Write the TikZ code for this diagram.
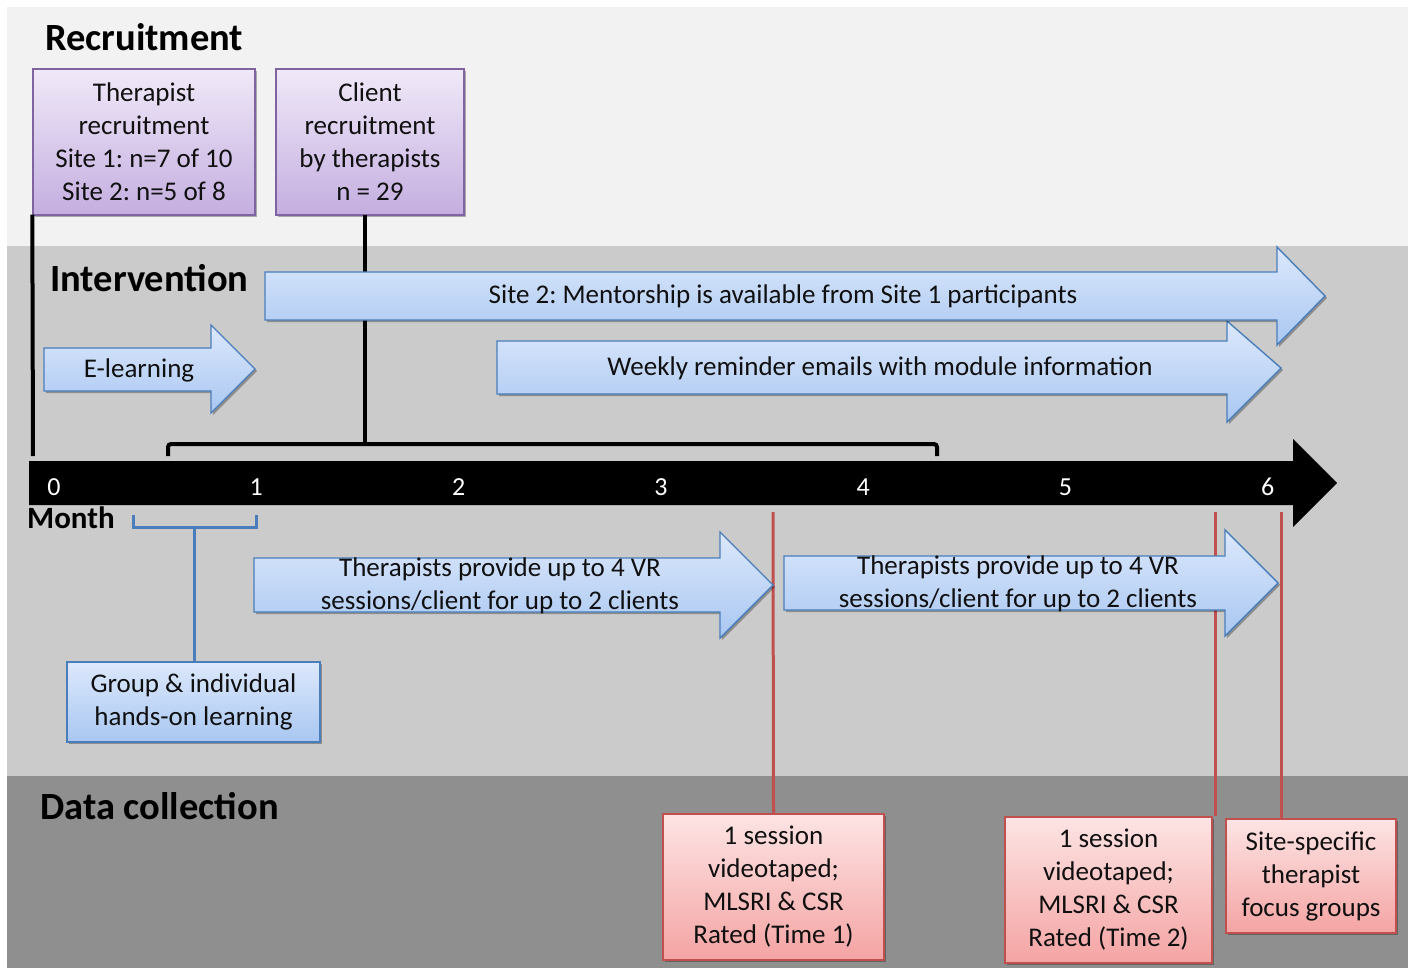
\documentclass[tikz,border=0pt]{standalone}
\usepackage{fontspec}
\setmainfont{Carlito}
\frenchspacing
\usetikzlibrary{shadows}
\definecolor{bandA}{HTML}{F2F2F2}
\definecolor{bandB}{HTML}{CBCBCB}
\definecolor{bandC}{HTML}{8F8F8F}
\definecolor{blTop}{HTML}{DCE8FC}
\definecolor{blBot}{HTML}{A9C7F1}
\definecolor{blLine}{HTML}{4A7EBB}
\definecolor{rdTop}{HTML}{FDE4E4}
\definecolor{rdBot}{HTML}{F4A4A3}
\definecolor{rdLine}{HTML}{C0504D}
\definecolor{puTop}{HTML}{F0E9F8}
\definecolor{puBot}{HTML}{C4AEE0}
\definecolor{puLine}{HTML}{8064A2}
\definecolor{txtc}{HTML}{101010}
\begin{document}
\begin{tikzpicture}[x=1pt,y=-1pt,
  softshadow/.style={drop shadow={shadow xshift=2pt,shadow yshift=-2pt,opacity=0.3,fill=black}},
  bluebox/.style={top color=blTop,bottom color=blBot,draw=blLine,line width=1.4pt,softshadow},
  redbox/.style={top color=rdTop,bottom color=rdBot,draw=rdLine,line width=1.6pt,softshadow,inner sep=0pt},
  purplebox/.style={top color=puTop,bottom color=puBot,draw=puLine,line width=1.4pt,softshadow,inner sep=0pt},
  txt/.style={font=\fontsize{27}{33}\selectfont,align=center,text=txtc},
  heading/.style={font=\fontsize{38.5}{42}\selectfont\bfseries,anchor=base west,inner sep=0pt,text=black},
  ticklab/.style={font=\fontsize{26}{30}\selectfont,text=white},
  blackline/.style={line width=4pt,draw=black},
  blueline/.style={line width=3pt,draw=blLine},
  redline/.style={line width=3pt,draw=rdLine}]
\useasboundingbox (0,0) rectangle (1412,968);
% background bands
\fill[white] (0,0) rectangle (1412,968);
\fill[bandA] (7,7) rectangle (1408,246);
\fill[bandB] (7,246) rectangle (1408,776);
\fill[bandC] (7,776) rectangle (1408,968);

% headings
\node[heading] (hrec) at (45,51) {Recruitment};
\node[heading] (hint) at (50,291) {Intervention};
\node[heading] (hdat) at (40,819) {Data collection};

% recruitment boxes
\node[purplebox,txt,minimum width=222pt,minimum height=146pt] (ther) at (144,142)
  {Therapist\\recruitment\\Site 1: n=7 of 10\\Site 2: n=5 of 8};
\node[purplebox,txt,minimum width=188pt,minimum height=146pt] (client) at (370,142)
  {Client\\recruitment\\by therapists\\n = 29};

% black connectors and bracket
\coordinate (t0) at (33,456);
\draw[blackline] (ther.south west) ++(0,-1) -- (t0);
\coordinate (cl) at (365,215);
\coordinate (brc) at (365,444);
\draw[blackline] (cl) -- (brc);
\coordinate (brL) at (168,456);
\coordinate (brR) at (937,456);
\draw[blackline,rounded corners=3pt] (brL) -- (brL |- brc) -- (brR |- brc) -- (brR);

% red connectors
\coordinate (r1) at (773,512);
\coordinate (r2) at (1215,512);
\coordinate (r3) at (1281,512);

% red boxes
\node[redbox,txt,minimum width=221pt,minimum height=146pt] (d1) at (773.5,887)
  {1 session\\videotaped;\\MLSRI \& CSR\\Rated (Time 1)};
\node[redbox,txt,minimum width=207pt,minimum height=146pt] (d2) at (1108.5,890)
  {1 session\\videotaped;\\MLSRI \& CSR\\Rated (Time 2)};
\node[redbox,txt,minimum width=170pt,minimum height=114pt] (d3) at (1311,876)
  {Site-specific\\therapist\\focus groups};
\draw[redline] (r1) -- (d1.north);
\draw[redline] (r2) -- (r2 |- d2.north);
\draw[redline] (r3) -- (r3 |- d3.north);

% timeline
\fill[black] (29,461) -- (1293,461) -- (1293,439) -- (1337,483) -- (1293,527) -- (1293,505) -- (29,505) -- cycle;
\foreach \m in {0,...,6}{
  \node[ticklab] (tick\m) at ({54+202.3*\m},487) {\m};
}
\node[font=\fontsize{31}{34}\selectfont\bfseries,anchor=base west,inner sep=0pt] (month) at (27,528) {Month};

% group learning bracket
\coordinate (gbL) at (133,515);
\coordinate (gbR) at (256,515);
\coordinate (gbM) at (194,527);
\node[bluebox,txt,inner sep=0pt,minimum width=253pt,minimum height=80pt] (group) at (193.5,702)
  {Group \& individual\\hands-on learning};
\draw[blueline] (gbL) -- (gbL |- gbM) -- (gbR |- gbM) -- (gbR);
\draw[blueline] (gbM) -- (gbM |- group.north);

% block arrows
\path[bluebox] (497,341) -- (1227,341) -- (1227,321) -- (1281,368) -- (1227,422) -- (1227,394) -- (497,394) -- cycle;
\node[txt] (weekly) at (880,368) {Weekly reminder emails with module information};
\path[bluebox] (265,272) -- (1277,272) -- (1277,247) -- (1325,296) -- (1277,345) -- (1277,320) -- (265,320) -- cycle;
\node[txt] (mentor) at (783,296) {Site 2: Mentorship is available from Site 1 participants};
\path[bluebox] (44,348) -- (211,348) -- (211,325) -- (255,369) -- (211,413) -- (211,391) -- (44,391) -- cycle;
\node[txt] (elearn) at (139,370) {E-learning};

\path[bluebox] (254,558) -- (720,558) -- (720,532) -- (773,585) -- (720,638) -- (720,612) -- (254,612) -- cycle;
\node[txt] (vr1) at (500,586) {Therapists provide up to 4 VR\\sessions/client for up to 2 clients};
\path[bluebox] (784,556) -- (1225,556) -- (1225,530) -- (1278,583) -- (1225,636) -- (1225,610) -- (784,610) -- cycle;
\node[txt] (vr2) at (1018,584) {Therapists provide up to 4 VR\\sessions/client for up to 2 clients};
\end{tikzpicture}
\end{document}
